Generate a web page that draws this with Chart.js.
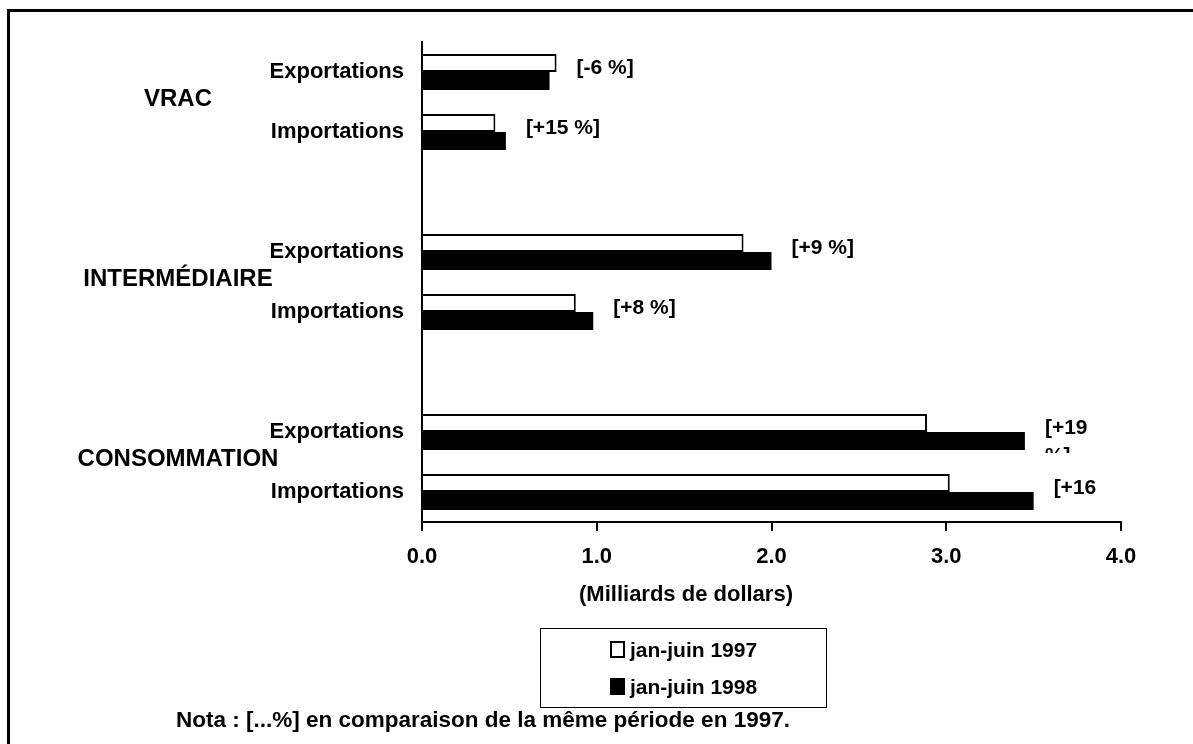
<!DOCTYPE html>
<html lang="fr">
<head>
<meta charset="utf-8">
<title>Exportations et importations par catégorie</title>
<script src="https://cdn.jsdelivr.net/npm/chart.js@4.4.1/dist/chart.umd.min.js"></script>
<style>
  html, body { margin: 0; padding: 0; background: #fff; }
  body {
    width: 1193px; height: 744px; position: relative; overflow: hidden;
    font-family: "Liberation Sans", Arial, sans-serif; font-weight: bold; color: #000;
  }
  #cadre {
    position: absolute; left: 7px; top: 9px; right: 0; bottom: 0;
    border-left: 3px solid #000; border-top: 3px solid #000;
  }
  #graphique { position: absolute; left: 0; top: 0; }
  #titreX {
    position: absolute; left: 686px; top: 581px; transform: translateX(-50%);
    font-size: 22px; white-space: nowrap;
  }
  #legende {
    position: absolute; left: 540px; top: 628px; width: 285px; height: 78px;
    border: 1px solid #000; display: flex; flex-direction: column;
    justify-content: center; align-items: center; gap: 13px;
  }
  .item { display: flex; align-items: center; font-size: 21px; white-space: nowrap; }
  .carre { width: 11px; height: 13px; margin-right: 5px; border: 2px solid #000; }
  #nota {
    position: absolute; left: 176px; top: 707px; font-size: 22.5px; white-space: nowrap;
  }
</style>
</head>
<body>
<div id="cadre"></div>
<canvas id="graphique" width="1193" height="744"></canvas>
<div id="titreX">(Milliards de dollars)</div>
<div id="legende"></div>
<div id="nota">Nota : [...%] en comparaison de la même période en 1997.</div>

<script>
// --- données (milliards de dollars) ---
const categories = ['Exportations', 'Importations', '', 'Exportations', 'Importations', '', 'Exportations', 'Importations'];
const groupes = ['VRAC', 'INTERMÉDIAIRE', 'CONSOMMATION'];
const series = ['jan-juin 1997', 'jan-juin 1998'];
const valeurs1997 = [0.77, 0.42, null, 1.84, 0.88, null, 2.89, 3.02];
const valeurs1998 = [0.73, 0.48, null, 2.00, 0.98, null, 3.45, 3.50];
const variations = ['[-6 %]', '[+15 %]', null, '[+9 %]', '[+8 %]', null, '[+19 %]', '[+16 %]'];

const police = '"Liberation Sans", Arial, sans-serif';

// étiquettes de groupe (VRAC...) et variations en %
const annotations = {
  id: 'annotations',
  afterDraw(chart) {
    const ctx = chart.ctx;
    const x = chart.scales.x, y = chart.scales.y;
    const zone = chart.chartArea;
    ctx.save();
    ctx.fillStyle = '#000';
    ctx.textBaseline = 'middle';

    // noms de groupe, centrés entre les deux lignes
    ctx.font = 'bold 24px ' + police;
    ctx.textAlign = 'center';
    groupes.forEach((g, i) => {
      const yMilieu = (y.getPixelForValue(i * 3) + y.getPixelForValue(i * 3 + 1)) / 2 - 3;
      ctx.fillText(g, 178, yMilieu);
    });

    // variations, à droite de la barre la plus longue
    ctx.font = 'bold 21px ' + police;
    ctx.textAlign = 'left';
    variations.forEach((txt, i) => {
      if (!txt) return;
      const fin = Math.max(valeurs1997[i], valeurs1998[i]);
      const px = x.getPixelForValue(fin) + 20;
      const py = y.getPixelForValue(i) - 4;
      if (px + ctx.measureText(txt).width > zone.right - 10) {
        // zone de texte trop étroite : retour à la ligne, coupé en bas
        const mots = txt.split(' ');
        ctx.fillText(mots[0], px, py);
        const hauteur = Math.min(25, zone.bottom - 24 - py);
        if (hauteur > 20) {
          ctx.save();
          ctx.beginPath();
          ctx.rect(px - 5, py, 100, hauteur);
          ctx.clip();
          ctx.fillText(mots.slice(1).join(' '), px, py + 28);
          ctx.restore();
        }
      } else {
        ctx.fillText(txt, px, py);
      }
    });
    ctx.restore();
  }
};

const graphique = new Chart(document.getElementById('graphique'), {
  type: 'bar',
  data: {
    labels: categories,
    datasets: [{
      label: series[0],
      data: valeurs1997,
      backgroundColor: '#fff',
      borderColor: '#000',
      borderWidth: 2
    }, {
      label: series[1],
      data: valeurs1998,
      backgroundColor: '#000',
      borderColor: '#000',
      borderWidth: 0
    }]
  },
  options: {
    indexAxis: 'y',
    responsive: false,
    animation: false,
    categoryPercentage: 0.6,
    barPercentage: 1.0,
    layout: { padding: { top: 42, right: 72, left: 0, bottom: 0 } },
    plugins: { legend: { display: false }, tooltip: { enabled: false } },
    scales: {
      x: {
        min: 0,
        max: 4,
        ticks: {
          stepSize: 1,
          callback: v => v.toFixed(1),
          font: { family: police, size: 22, weight: 'bold' },
          color: '#000',
          padding: 13
        },
        grid: { drawOnChartArea: false, drawTicks: true, tickLength: 9, color: '#000', lineWidth: 2 },
        border: { color: '#000', width: 2 },
        afterFit: s => { s.height = 222; }
      },
      y: {
        ticks: {
          autoSkip: false,
          font: { family: police, size: 22, weight: 'bold' },
          color: '#000',
          padding: 10
        },
        grid: { display: false },
        border: { display: true, color: '#000', width: 2 },
        afterFit: s => { s.width = 422; }
      }
    }
  },
  plugins: [annotations]
});

// légende HTML construite à partir des séries du graphique
const legende = document.getElementById('legende');
graphique.data.datasets.forEach(ds => {
  const item = document.createElement('div');
  item.className = 'item';
  const carre = document.createElement('span');
  carre.className = 'carre';
  carre.style.background = ds.backgroundColor;
  item.appendChild(carre);
  item.appendChild(document.createTextNode(ds.label));
  legende.appendChild(item);
});
</script>
</body>
</html>
